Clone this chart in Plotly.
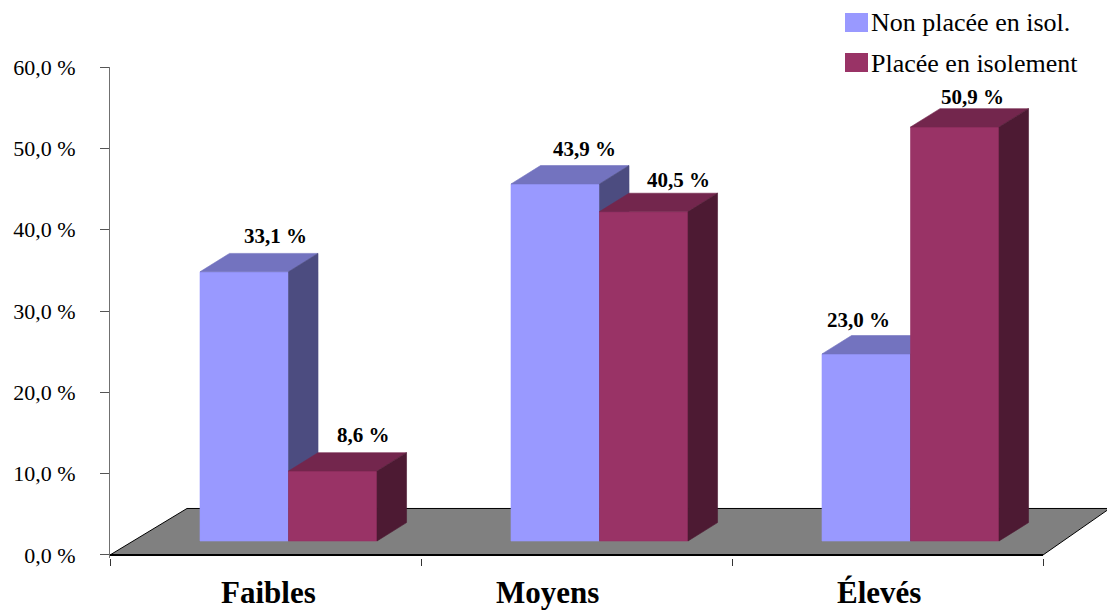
import plotly.graph_objects as go

# ---- data -------------------------------------------------------------
categories = ["Faibles", "Moyens", "Élevés"]
series_names = ["Non placée en isol.", "Placée en isolement"]
non_isol = [33.1, 43.9, 23.0]
isolement = [8.6, 40.5, 50.9]
y_ticks = [0, 10, 20, 30, 40, 50, 60]
y_tick_labels = ["0,0 %", "10,0 %", "20,0 %", "30,0 %", "40,0 %", "50,0 %", "60,0 %"]

# ---- styling / geometry of the pseudo-3D view ---------------------------
W, H = 1107, 610
M_L, M_R, M_T, M_B = 110, 0, 67, 52
X_UNIT_PX = 311.0                      # pixels per category
X_MAX = (W - M_L - M_R) / X_UNIT_PX
Y_MIN, Y_MAX = -0.37, 60

BAR_OFF = 0.2894                       # left edge of first bar inside a category
BAR_W = 0.2846                         # bar width (category units)
DEPTH_X = 0.0949                       # bar depth, horizontal component
DEPTH_Y = 2.262                        # bar depth, vertical component
LIFT = 1.72                            # front face base sits on the floor, above the axis

FLOOR_DX_L = 0.2476
FLOOR_DX_R = 0.2145
FLOOR_DY = 5.72

# value-label nudges in pixels, per [category][series] (x, y)
LABEL_NUDGE = [
    [(2, 17), (1, 18)],
    [(0, 17), (5, 13)],
    [(-37, 16), (-12, 12)],
]

FACE_COLORS = [
    {"front": "#9999FF", "top": "#7373BF", "side": "#4C4C80"},
    {"front": "#993366", "top": "#73264D", "side": "#4D1A33"},
]
SERIF = "'Liberation Serif', 'Times New Roman', 'DejaVu Serif', serif"

fig = go.Figure()


def poly(xs, ys, color, line_color=None, width=0.6):
    fig.add_trace(go.Scatter(
        x=list(xs) + [xs[0]], y=list(ys) + [ys[0]],
        mode="lines", fill="toself", fillcolor=color,
        line=dict(color=line_color or color, width=width),
        hoverinfo="skip", showlegend=False,
    ))


# floor
n_cat = len(categories)
poly([0, FLOOR_DX_L, n_cat + FLOOR_DX_R, n_cat],
     [0, FLOOR_DY, FLOOR_DY, 0], "#808080", line_color="#000000", width=1)
fig.add_trace(go.Scatter(x=[0, n_cat], y=[0, 0], mode="lines",
                         line=dict(color="#000000", width=2),
                         hoverinfo="skip", showlegend=False))

# bars (front, top and side faces)
annotations = []
for ci in range(n_cat):
    for si, values in enumerate([non_isol, isolement]):
        v = values[ci]
        c = FACE_COLORS[si]
        x0 = ci + BAR_OFF + si * BAR_W
        x1 = x0 + BAR_W
        b = LIFT
        t = LIFT + v
        poly([x0, x1, x1, x0], [b, b, t, t], c["front"])
        poly([x0, x1, x1 + DEPTH_X, x0 + DEPTH_X],
             [t, t, t + DEPTH_Y, t + DEPTH_Y], c["top"])
        poly([x1, x1 + DEPTH_X, x1 + DEPTH_X, x1],
             [b, b + DEPTH_Y, t + DEPTH_Y, t], c["side"])
        nx, ny = LABEL_NUDGE[ci][si]
        annotations.append(dict(
            x=(x0 + x1) / 2 + DEPTH_X, y=t + DEPTH_Y, xref="x", yref="y",
            text="<b>" + f"{v:.1f}".replace(".", ",") + " %</b>", showarrow=False,
            xanchor="center", yanchor="middle", xshift=nx, yshift=ny,
            font=dict(family=SERIF, size=21, color="#000000"),
        ))

# category labels under the floor
label_shift = [3, -29, -9]
for ci, name in enumerate(categories):
    annotations.append(dict(
        x=ci + 0.5, y=0, xref="x", yref="paper", text=f"<b>{name}</b>",
        showarrow=False, xanchor="center", yanchor="middle",
        xshift=label_shift[ci], yshift=-34,
        font=dict(family=SERIF, size=31, color="#000000"),
    ))


# legend drawn in pixel space
def px_x(p):
    return (p - M_L) / (W - M_L - M_R)


def px_y(p):
    return (H - M_B - p) / (H - M_T - M_B)


shapes = []
for si, name in enumerate(series_names):
    top = 13 + si * 40
    shapes.append(dict(type="rect", xref="paper", yref="paper",
                       x0=px_x(845), x1=px_x(868), y0=px_y(top + 19), y1=px_y(top),
                       fillcolor=FACE_COLORS[si]["front"], line=dict(width=0)))
    annotations.append(dict(
        x=px_x(869), y=px_y(top + 10), xref="paper", yref="paper",
        text=name, showarrow=False, xanchor="left", yanchor="middle",
        font=dict(family=SERIF, size=26, color="#000000"),
    ))

fig.update_layout(
    width=W, height=H,
    margin=dict(l=M_L, r=M_R, t=M_T, b=M_B, autoexpand=False),
    paper_bgcolor="#FFFFFF", plot_bgcolor="#FFFFFF",
    showlegend=False,
    annotations=annotations, shapes=shapes,
    xaxis=dict(range=[0, X_MAX], showgrid=False, zeroline=False, showline=False,
               showticklabels=False, ticks="", fixedrange=True,
               minor=dict(tickvals=[0, 1, 2, 3], ticks="outside", ticklen=7,
                          tickcolor="#333333", tickwidth=1, showgrid=False)),
    yaxis=dict(range=[Y_MIN, Y_MAX], showgrid=False, zeroline=False,
               showline=True, linecolor="#707070", linewidth=1,
               tickvals=y_ticks, ticktext=y_tick_labels, ticks="outside",
               ticklen=9, tickcolor="#555555", ticklabelstandoff=20,
               tickfont=dict(family=SERIF, size=22, color="#000000"),
               fixedrange=True),
)

fig.write_html("out.html")
